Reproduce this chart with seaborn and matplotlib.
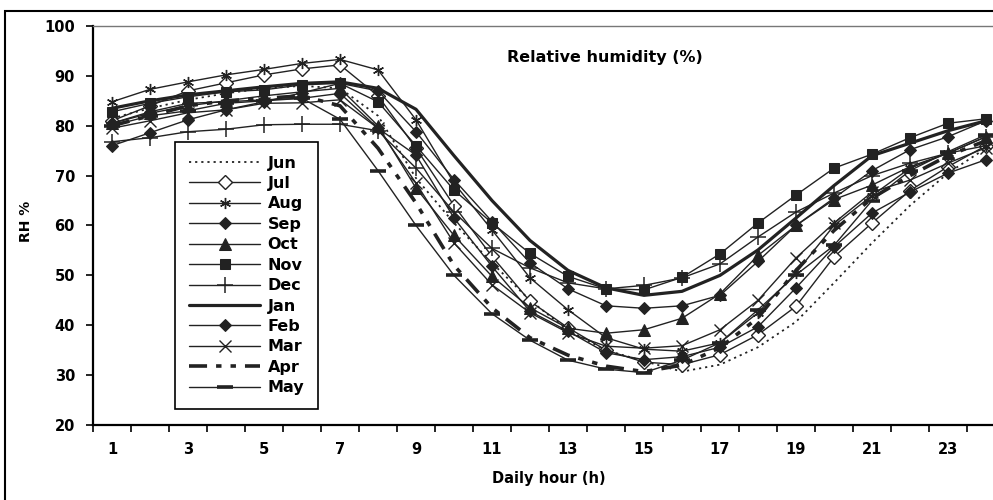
import numpy as np
import matplotlib
matplotlib.use("Agg")
import matplotlib.pyplot as plt
from matplotlib.patches import Rectangle
import seaborn as sns

# Hourly mean relative humidity (%) for each month
hours = list(range(1, 25))
hour_ticks = list(range(1, 24, 2))

jun = [81.5, 83.5, 85.2, 86.5, 87.5, 88.0, 87.5, 82.0, 69.5, 60.5, 52.5, 45.0,
       39.0, 35.0, 32.8, 30.7, 32.1, 35.6, 40.7, 48.5, 56.5, 64.0, 70.5, 75.5]
jul = [81.0, 84.0, 87.0, 88.6, 90.2, 91.4, 92.2, 86.0, 75.5, 64.0, 53.8, 44.8,
       39.5, 35.0, 32.6, 32.1, 34.1, 38.1, 43.8, 53.7, 60.5, 67.0, 71.8, 76.0]
aug = [84.8, 87.3, 88.8, 90.2, 91.3, 92.5, 93.3, 91.2, 81.2, 68.5, 59.1, 49.5,
       43.1, 37.5, 35.2, 34.8, 36.5, 42.5, 50.5, 60.0, 66.0, 71.5, 74.5, 76.0]
sep = [80.5, 82.8, 84.5, 84.8, 85.2, 85.5, 86.5, 79.5, 74.1, 61.5, 51.8, 42.8,
       38.8, 34.5, 33.1, 33.7, 35.6, 39.7, 47.5, 55.7, 62.5, 66.7, 70.5, 73.2]
oct_ = [80.5, 82.5, 84.0, 85.0, 86.0, 86.8, 87.5, 80.0, 67.5, 58.0, 49.8, 43.5,
        39.4, 38.4, 39.1, 41.4, 46.3, 54.0, 60.0, 65.2, 68.1, 71.8, 74.5, 77.8]
nov = [82.8, 84.5, 85.8, 86.8, 87.2, 88.2, 88.5, 84.8, 76.0, 67.1, 60.5, 54.4,
       49.8, 47.3, 47.1, 49.6, 54.3, 60.5, 66.1, 71.5, 74.3, 77.6, 80.5, 81.4]
dec = [76.8, 77.6, 78.8, 79.3, 80.2, 80.3, 80.3, 79.0, 71.5, 62.7, 55.4, 51.5,
       48.5, 47.3, 48.0, 49.5, 52.3, 57.7, 62.7, 66.5, 70.0, 72.5, 74.5, 77.8]
jan = [83.5, 85.0, 86.2, 87.0, 87.8, 88.5, 88.8, 87.5, 83.3, 74.0, 65.0, 57.0,
       51.0, 47.5, 46.0, 46.8, 50.0, 55.1, 61.5, 68.0, 74.0, 76.5, 79.0, 81.0]
feb = [76.0, 78.6, 81.2, 83.2, 84.8, 86.6, 88.5, 87.0, 78.8, 69.2, 60.8, 52.5,
       47.3, 43.9, 43.4, 43.9, 46.0, 52.8, 60.0, 65.5, 71.0, 75.2, 77.8, 81.0]
mar = [79.5, 81.0, 82.6, 83.2, 84.5, 84.6, 85.2, 79.5, 68.5, 56.5, 48.1, 42.5,
       38.5, 35.8, 35.4, 35.9, 39.1, 45.0, 53.5, 60.5, 66.7, 69.1, 72.5, 75.6]
apr = [80.0, 82.0, 84.0, 85.0, 85.5, 86.0, 84.0, 75.5, 64.5, 52.0, 43.5, 37.5,
       34.0, 31.8, 30.7, 32.0, 35.5, 41.5, 51.0, 59.0, 65.5, 70.0, 74.0, 77.0]
may = [80.0, 82.0, 83.0, 84.5, 85.0, 85.5, 81.3, 71.0, 60.0, 50.0, 42.3, 37.0,
       33.0, 31.2, 30.5, 33.0, 36.5, 43.1, 50.1, 56.0, 65.0, 71.0, 74.8, 78.2]

month_names = ["Jun", "Jul", "Aug", "Sep", "Oct", "Nov",
               "Dec", "Jan", "Feb", "Mar", "Apr", "May"]
month_values = [jun, jul, aug, sep, oct_, nov, dec, jan, feb, mar, apr, may]

ink = "#222222"
line_styles = {
    "Jun": dict(linestyle=(0, (1.2, 2.2)), lw=1.3),
    "Jul": dict(marker="D", ms=7, mfc="white", mew=1.0),
    "Aug": dict(marker=(6, 2, 0), ms=8, mew=1.0),
    "Sep": dict(marker="D", ms=6),
    "Oct": dict(marker="^", ms=8),
    "Nov": dict(marker="s", ms=7),
    "Dec": dict(marker="+", ms=11, mew=1.1),
    "Jan": dict(lw=2.3),
    "Feb": dict(marker="D", ms=6),
    "Mar": dict(marker="x", ms=8, mew=1.0),
    "Apr": dict(lw=2.6, linestyle=(0, (5, 2.5, 1.5, 2.5, 1.5, 2.5))),
    "May": dict(marker="_", ms=11, mew=2.6),
}

sns.set_theme(style="white")
plt.rcParams["font.family"] = ["DejaVu Sans"]
plt.rcParams["font.weight"] = "bold"
plt.rcParams["text.color"] = "black"

fig = plt.figure(figsize=(9.93, 5.0), dpi=100)
ax = fig.add_axes([93 / 993, 75 / 500, 912 / 993, 399 / 500])

for name, vals in zip(month_names, month_values):
    kw = dict(lw=1.0)
    kw.update(line_styles[name])
    kw.setdefault("mfc", ink)
    sns.lineplot(x=hours, y=vals, ax=ax, color=ink, mec=ink, label=name, **kw)

ax.set_xlim(0.5, 24.5)
ax.set_ylim(20, 100)

ax.set_xticks(hour_ticks)
ax.set_xticklabels([str(h) for h in hour_ticks])
ax.set_xticks(np.arange(0.5, 25, 1), minor=True)
ax.tick_params(axis="x", which="major", bottom=True, length=0, pad=12,
               labelsize=10.5, labelcolor="black")
ax.tick_params(axis="x", which="minor", bottom=True, length=5, width=1.2,
               direction="out", color="black")
ax.set_yticks(range(20, 101, 10))
ax.tick_params(axis="y", left=True, length=5, width=1.2, direction="out",
               color="black", labelsize=10.5, pad=8, labelcolor="black")
for lab in ax.get_xticklabels() + ax.get_yticklabels():
    lab.set_fontweight("bold")

for side in ("left", "bottom"):
    ax.spines[side].set_color("black")
    ax.spines[side].set_linewidth(1.6)
ax.spines["top"].set_color("#777777")
ax.spines["top"].set_linewidth(1.0)
ax.spines["right"].set_visible(False)

ax.set_xlabel("Daily hour (h)", fontsize=10.5, fontweight="bold", labelpad=10,
              color="black")
ax.set_ylabel("RH %", fontsize=10, fontweight="bold", labelpad=3, color="black")
ax.yaxis.set_label_coords(-0.066, 0.51)

ax.text(0.561, 0.922, "Relative humidity (%)", transform=ax.transAxes,
        ha="center", va="center", fontsize=11.5, fontweight="bold", color="black")

leg = ax.legend(loc="upper left",
                bbox_to_anchor=((175 - 93) / 912, (425 - 142) / 399),
                borderaxespad=0, frameon=True, fancybox=False,
                edgecolor="black", framealpha=1, handlelength=4.5,
                handletextpad=0.45, labelspacing=0.34, borderpad=0.85,
                prop=dict(weight="bold", size=11.5))
leg.get_frame().set_linewidth(1.2)
for txt in leg.get_texts():
    txt.set_color("black")

# outer border of the figure panel
fig.patches.append(Rectangle((5 / 993, -0.02), 1.05, 0.998,
                             transform=fig.transFigure, fill=False,
                             lw=1.5, ec="black"))

fig.savefig("out.png", dpi=100)
